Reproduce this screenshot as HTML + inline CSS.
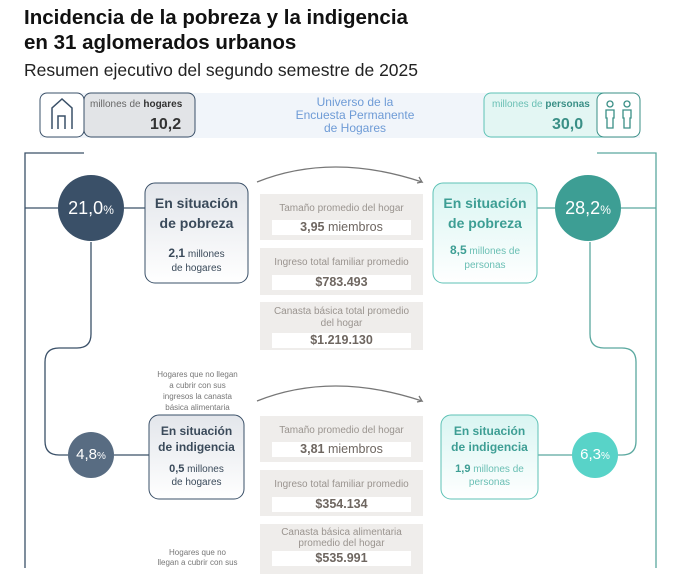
<!DOCTYPE html>
<html><head><meta charset="utf-8"><style>
body{margin:0;width:674px;height:568px;overflow:hidden;background:#fff;font-family:"Liberation Sans",sans-serif;position:relative}
.a{position:absolute}
.t{font-weight:bold;font-size:20.5px;color:#111;left:24px;line-height:25px}
.c{text-align:center}
.g{background:#efedeb;color:#9a948f;font-size:10px;text-align:center}
.w{background:#fff;margin:0 auto;width:139px;color:#6e6660;font-weight:bold;font-size:12.5px;line-height:15px}
</style></head><body>
<div class="a t" style="top:5px">Incidencia de la pobreza y la indigencia</div>
<div class="a t" style="top:30px">en 31 aglomerados urbanos</div>
<div class="a" style="left:24px;top:60px;font-size:17.5px;color:#222">Resumen ejecutivo del segundo semestre de 2025</div>

<svg class="a" style="left:0;top:0" width="674" height="568">
<rect x="40" y="93" width="600" height="45" fill="#f1f5fa"/>
<rect x="84" y="93" width="111" height="44" rx="7" fill="#e2e4e7" stroke="#3a5068"/>
<rect x="40" y="93" width="44" height="44" rx="7" fill="#fff" stroke="#3a5068"/>
<path d="M52 129V108l10-9 10 9v21M58 129v-13h7v13" fill="none" stroke="#3a5068" stroke-width="1.5"/>
<rect x="484" y="93" width="128" height="44" rx="7" fill="#e3f6f3" stroke="#5ec2b6"/>
<rect x="597" y="93" width="43" height="44" rx="7" fill="#fff" stroke="#3a8f86"/>
<g fill="none" stroke="#3a8f86" stroke-width="1.3"><circle cx="610" cy="104" r="3"/><path d="M606 110h8v8h-1v10h-6v-10h-1z"/><circle cx="627" cy="104" r="3"/><path d="M623 110h8v8h-1v10h-6v-10h-1z"/></g>
<g fill="none" stroke-width="1.3">
<path d="M84 153H25V568M58 208H25M124 208h21M91 242v92q0 14-14 14H59q-14 0-14 14V441q0 14 14 14h9M114 455h35" stroke="#3a5068"/>
<path d="M597 153h59V568M621 208h35M537 208h18M590 242v92q0 14 14 14h18q14 0 14 14v79q0 14-14 14h-5M573 455h-35" stroke="#5aa89f"/>
<path d="M257 182q75-30 165 0l-3-5M422 182l-5 1M257 401q75-30 165 0l-3-5M422 401l-5 1" stroke="#777"/>
</g>
<circle cx="91" cy="208" r="33" fill="#3a5068"/>
<circle cx="588" cy="208" r="33" fill="#3d9e94"/>
<circle cx="91" cy="455" r="23" fill="#586c82"/>
<circle cx="595" cy="455" r="23" fill="#58d3c8"/>
<defs><linearGradient id="gl" x1="0" y1="0" x2="0" y2="1"><stop offset="0" stop-color="#e3e6eb"/><stop offset="1" stop-color="#fff"/></linearGradient>
<linearGradient id="gr" x1="0" y1="0" x2="0" y2="1"><stop offset="0" stop-color="#d9f5f2"/><stop offset="1" stop-color="#fff"/></linearGradient></defs>
<rect x="145" y="183" width="103" height="100" rx="10" fill="url(#gl)" stroke="#3a5068"/>
<rect x="433" y="183" width="104" height="100" rx="10" fill="url(#gr)" stroke="#5ec2b6"/>
<rect x="149" y="415" width="95" height="84" rx="10" fill="url(#gl)" stroke="#3a5068"/>
<rect x="441" y="415" width="97" height="84" rx="10" fill="url(#gr)" stroke="#5ec2b6"/>
</svg>

<div class="a" style="left:90px;top:99px;font-size:10px;color:#666">millones de <b style="color:#333">hogares</b></div>
<div class="a" style="left:150px;top:116px;font-size:16px;font-weight:bold;color:#333">10,2</div>
<div class="a c" style="left:240px;top:96px;width:230px;font-size:12px;line-height:13px;color:#6e9bd6">Universo de la<br>Encuesta Permanente<br>de Hogares</div>
<div class="a" style="left:492px;top:99px;font-size:10px;color:#6abfb4">millones de <b style="color:#3a8f86">personas</b></div>
<div class="a" style="left:552px;top:116px;font-size:16px;font-weight:bold;color:#3a8f86">30,0</div>

<div class="a c" style="left:58px;top:198px;width:66px;color:#fff;font-size:18px">21,0<span style="font-size:12px">%</span></div>
<div class="a c" style="left:555px;top:198px;width:66px;color:#fff;font-size:18px">28,2<span style="font-size:12px">%</span></div>
<div class="a c" style="left:68px;top:446px;width:46px;color:#fff;font-size:15px">4,8<span style="font-size:10px">%</span></div>
<div class="a c" style="left:572px;top:446px;width:46px;color:#fff;font-size:15px">6,3<span style="font-size:10px">%</span></div>

<div class="a c" style="left:145px;top:193px;width:103px;font-size:14px;line-height:20px;color:#3a4a5a;font-weight:bold">En situación<br>de pobreza</div>
<div class="a c" style="left:145px;top:246px;width:103px;font-size:10px;line-height:14px;color:#3a4a5a"><b style="font-size:12px">2,1</b> millones<br>de hogares</div>
<div class="a c" style="left:433px;top:193px;width:104px;font-size:14px;line-height:20px;color:#3d9e94;font-weight:bold">En situación<br>de pobreza</div>
<div class="a c" style="left:433px;top:243px;width:104px;font-size:10px;line-height:14px;color:#6abfb4"><b style="font-size:12px;color:#3d9e94">8,5</b> millones de<br>personas</div>

<div class="a c" style="left:149px;top:423px;width:95px;font-size:12px;line-height:16px;color:#3a4a5a;font-weight:bold">En situación<br>de indigencia</div>
<div class="a c" style="left:149px;top:463px;width:95px;font-size:10px;line-height:13px;color:#3a4a5a"><b style="font-size:11px">0,5</b> millones<br>de hogares</div>
<div class="a c" style="left:441px;top:423px;width:97px;font-size:12px;line-height:16px;color:#3d9e94;font-weight:bold">En situación<br>de indigencia</div>
<div class="a c" style="left:441px;top:463px;width:97px;font-size:10px;line-height:13px;color:#6abfb4"><b style="font-size:11px;color:#3d9e94">1,9</b> millones de<br>personas</div>

<div class="a c" style="left:140px;top:369px;width:115px;font-size:8px;line-height:11px;color:#777">Hogares que no llegan<br>a cubrir con sus<br>ingresos la canasta<br>básica alimentaria</div>
<div class="a c" style="left:140px;top:548px;width:115px;font-size:8px;line-height:10px;color:#777">Hogares que no<br>llegan a cubrir con sus</div>

<div class="a g" style="left:260px;top:194px;width:163px;height:46px"><div style="padding:9px 0 6px">Tamaño promedio del hogar</div><div class="w"><b>3,95</b> <span style="font-weight:normal">miembros</span></div></div>
<div class="a g" style="left:260px;top:248px;width:163px;height:47px"><div style="padding:9px 0 7px">Ingreso total familiar promedio</div><div class="w">$783.493</div></div>
<div class="a g" style="left:260px;top:302px;width:163px;height:48px"><div style="padding:4px 0 3px;line-height:12px">Canasta básica total promedio<br>del hogar</div><div class="w">$1.219.130</div></div>
<div class="a g" style="left:260px;top:416px;width:163px;height:46px"><div style="padding:9px 0 6px">Tamaño promedio del hogar</div><div class="w"><b>3,81</b> <span style="font-weight:normal">miembros</span></div></div>
<div class="a g" style="left:260px;top:470px;width:163px;height:46px"><div style="padding:9px 0 7px">Ingreso total familiar promedio</div><div class="w">$354.134</div></div>
<div class="a g" style="left:260px;top:524px;width:163px;height:50px"><div style="padding:3px 0 2px;line-height:11px">Canasta básica alimentaria<br>promedio del hogar</div><div class="w">$535.991</div></div>
</body></html>
